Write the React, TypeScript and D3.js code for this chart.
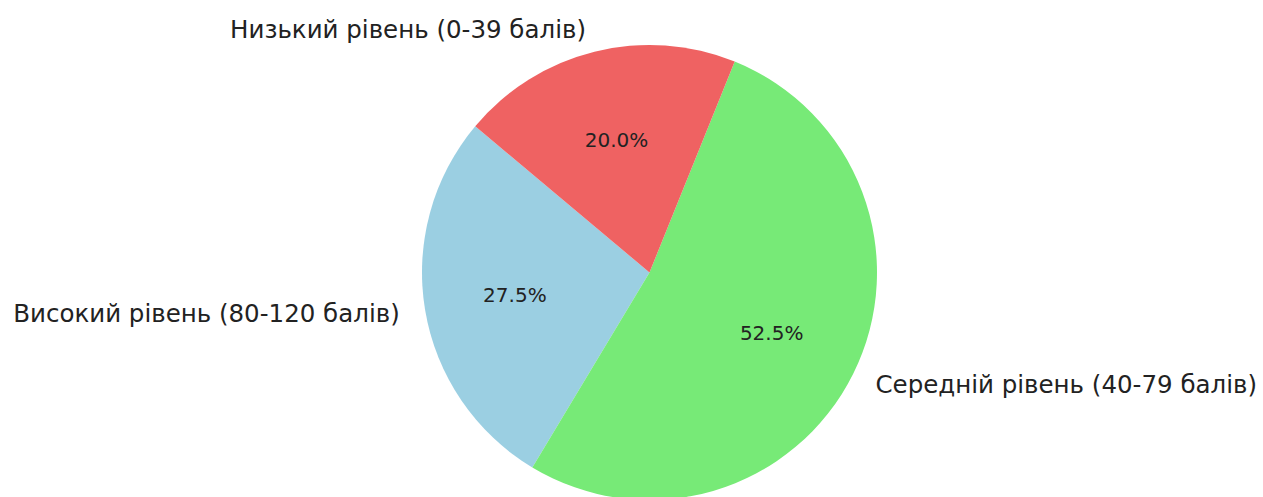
import React from "react";
import * as d3 from "d3";

const labels: string[] = [
  "Високий рівень (80-120 балів)",
  "Середній рівень (40-79 балів)",
  "Низький рівень (0-39 балів)",
];
const values: number[] = [27.5, 52.5, 20.0];
const colors: string[] = ["#9BCFE2", "#77EA77", "#EF6262"];

const W = 1263;
const H = 497;
const CX = 649.5;
const CY = 272.5;
const R = 227.5;
const START_DEG = 140; // matplotlib startangle, counter-clockwise

export default function App() {
  const start = ((90 - START_DEG) * Math.PI) / 180;
  const pie = d3
    .pie<number>()
    .sort(null)
    .value((d) => d)
    .startAngle(start)
    .endAngle(start - 2 * Math.PI);
  const arcs = pie(values);
  const arcGen = d3.arc<d3.PieArcDatum<number>>().innerRadius(0).outerRadius(R);
  const font = "'DejaVu Sans', sans-serif";

  return (
    <div style={{ position: "absolute", left: 0, top: 0 }}>
      <svg width={W} height={H} style={{ display: "block", background: "#fff" }}>
        <g transform={`translate(${CX},${CY})`}>
          {arcs.map((a, i) => (
            <path key={"s" + i} d={arcGen(a) || ""} fill={colors[i]} />
          ))}
          {arcs.map((a, i) => {
            const mid = (a.startAngle + a.endAngle) / 2;
            const lx = Math.sin(mid) * R * 1.1;
            const ly = -Math.cos(mid) * R * 1.1;
            const px = Math.sin(mid) * R * 0.6;
            const py = -Math.cos(mid) * R * 0.6;
            return (
              <g key={"t" + i}>
                <text
                  x={lx < 0 ? lx - 3 : lx + 2}
                  y={ly}
                  textAnchor={lx < 0 ? "end" : "start"}
                  dominantBaseline="central"
                  fontFamily={font}
                  fontSize={24.5}
                  fill="#222"
                >
                  {labels[i]}
                </text>
                <text
                  x={px}
                  y={py}
                  textAnchor="middle"
                  dominantBaseline="central"
                  fontFamily={font}
                  fontSize={20}
                  fill="#222"
                >
                  {values[i].toFixed(1) + "%"}
                </text>
              </g>
            );
          })}
        </g>
      </svg>
    </div>
  );
}
